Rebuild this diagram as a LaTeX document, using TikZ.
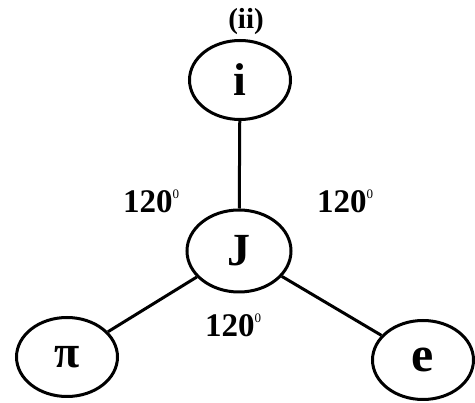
\documentclass[tikz,border=0pt]{standalone}
\usepackage{fontspec}
\setmainfont{Liberation Serif}
\usetikzlibrary{shapes.geometric}
\newcommand{\degsup}{\raisebox{14pt}{\fontsize{13}{13}\selectfont\mdseries 0}}
\begin{document}
\begin{tikzpicture}[x=1pt,y=-1pt,
  ell/.style={draw, line width=3pt, ellipse, minimum width=101pt, minimum height=79pt, inner sep=0pt, font=\fontsize{46}{46}\selectfont\bfseries},
  lbl/.style={font=\fontsize{33}{33}\selectfont\bfseries, inner sep=0pt, anchor=base west},
  conn/.style={line width=3pt}]
\useasboundingbox (0,0) rectangle (475,403);
\node[font=\fontsize{29}{29}\selectfont\bfseries] (title) at (246,22) {(ii)};
\node[ell] (i) at (240,80) {i};
\node[ell, minimum width=104pt, minimum height=82pt] (J) at (239,251) {J};
\node[ell] (pi) at (67,357) {π};
\node[ell, font=\fontsize{50}{50}\selectfont\bfseries] (e) at (423,360) {e};
\draw[conn] (i) -- (J);
\draw[conn] (J) -- (pi);
\draw[conn] (J) -- (e);
\node[lbl] (a1) at (123,213) {120\degsup};
\node[lbl] (a2) at (317,213) {120\degsup};
\node[lbl] (a3) at (205,337) {120\degsup};
\end{tikzpicture}
\end{document}
